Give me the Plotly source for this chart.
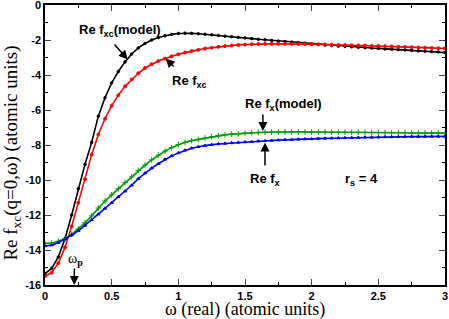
import plotly.graph_objects as go

omega = [round(0.05 * i, 2) for i in range(61)]

fxc_model = [-15.35, -15.05, -14.4, -13.35, -12.0, -10.5, -9.1, -7.85, -6.35, -5.3,
             -4.45, -3.8, -3.25, -2.8, -2.45, -2.2, -2.0, -1.86, -1.76, -1.68,
             -1.63, -1.61, -1.62, -1.64, -1.67, -1.7, -1.74, -1.78, -1.81, -1.85,
             -1.88, -1.92, -1.96, -1.99, -2.03, -2.06, -2.09, -2.12, -2.15, -2.18,
             -2.23, -2.26, -2.29, -2.32, -2.35, -2.37, -2.39, -2.42, -2.44, -2.46,
             -2.48, -2.51, -2.53, -2.55, -2.57, -2.59, -2.62, -2.64, -2.66, -2.68,
             -2.72]

fxc = [-15.5, -15.3, -14.75, -13.85, -12.65, -11.3, -9.95, -8.55, -7.4, -6.5,
       -5.75, -5.15, -4.65, -4.25, -3.9, -3.6, -3.38, -3.2, -3.06, -2.93,
       -2.82, -2.72, -2.63, -2.56, -2.49, -2.44, -2.39, -2.35, -2.31, -2.28,
       -2.26, -2.24, -2.23, -2.22, -2.22, -2.22, -2.22, -2.22, -2.23, -2.23,
       -2.24, -2.25, -2.26, -2.27, -2.28, -2.29, -2.3, -2.31, -2.32, -2.33,
       -2.34, -2.35, -2.37, -2.38, -2.4, -2.41, -2.43, -2.44, -2.45, -2.47,
       -2.48]

fx_model = [-13.62, -13.6, -13.5, -13.35, -13.1, -12.8, -12.45, -12.05, -11.6, -11.2,
            -10.85, -10.5, -10.15, -9.82, -9.45, -9.15, -8.85, -8.58, -8.35, -8.15,
            -7.98, -7.85, -7.75, -7.68, -7.6, -7.53, -7.47, -7.42, -7.38, -7.35,
            -7.32, -7.3, -7.28, -7.27, -7.26, -7.25, -7.25, -7.25, -7.25, -7.25,
            -7.26, -7.26, -7.26, -7.27, -7.27, -7.27, -7.28, -7.28, -7.28, -7.29,
            -7.29, -7.29, -7.3, -7.3, -7.3, -7.31, -7.31, -7.31, -7.32, -7.32,
            -7.32]

fx = [-13.77, -13.72, -13.58, -13.38, -13.15, -12.9, -12.6, -12.28, -11.95, -11.62,
      -11.29, -10.96, -10.64, -10.3, -9.92, -9.6, -9.32, -9.07, -8.82, -8.62,
      -8.45, -8.3, -8.18, -8.1, -8.03, -7.98, -7.94, -7.91, -7.88, -7.85,
      -7.83, -7.81, -7.78, -7.76, -7.74, -7.72, -7.7, -7.69, -7.67, -7.66,
      -7.65, -7.63, -7.62, -7.61, -7.6, -7.59, -7.58, -7.57, -7.56, -7.56,
      -7.55, -7.54, -7.54, -7.53, -7.53, -7.52, -7.52, -7.52, -7.51, -7.51,
      -7.51]

x_ticks = [0, 0.5, 1, 1.5, 2, 2.5, 3]
x_ticktext = ["0", "0.5", "1", "1.5", "2", "2.5", "3"]
y_ticks = [0, -2, -4, -6, -8, -10, -12, -14, -16]
y_ticktext = ["0", "-2", "-4", "-6", "-8", "-10", "-12", "-14", "-16"]

omega_p = 0.22

fig = go.Figure()
series = [
    (fxc_model, "black", "circle", 2.5),
    (fxc, "#ff0000", "circle", 3),
    (fx_model, "#009a00", "cross-thin", 4),
    (fx, "#0000ff", "triangle-up", 3),
]
for ys, col, sym, sz in series:
    fig.add_trace(go.Scatter(
        x=omega, y=ys, mode="lines+markers",
        line=dict(color=col, width=1.6),
        marker=dict(color=col, symbol=sym, size=sz, line=dict(color=col, width=1)),
        showlegend=False, hoverinfo="skip"))

bold = dict(family="Liberation Sans, Arial, sans-serif", size=13, color="black")

def label(text, x, y, size=13):
    fig.add_annotation(x=x, y=y, xref="x", yref="y", text=text, showarrow=False,
                       font=dict(bold, size=size), xanchor="center", yanchor="middle")

def arrow(x0, y0, x1, y1):
    fig.add_annotation(x=x1, y=y1, ax=x0, ay=y0, xref="x", yref="y", axref="x", ayref="y",
                       text="", showarrow=True, arrowhead=2, arrowsize=1.2, arrowwidth=1.5,
                       arrowcolor="black")

label("<b>Re f<sub>xc</sub>(model)</b>", 0.56, -1.45)
arrow(0.512, -2.17, 0.62, -3.12)
label("<b>Re f<sub>xc</sub></b>", 1.08, -4.35)
arrow(0.976, -3.6, 0.905, -3.05)
label("<b>Re f<sub>x</sub>(model)</b>", 1.787, -5.7)
arrow(1.634, -6.17, 1.634, -7.2)
label("<b>Re f<sub>x</sub></b>", 1.65, -9.95)
arrow(1.65, -9.26, 1.65, -7.85)
label("<b>r<sub>s</sub> = 4</b>", 2.37, -9.95)
fig.add_annotation(x=omega_p + 0.01, y=-14.55, xref="x", yref="y", text="ω<sub><b>p</b></sub>",
                   showarrow=False, font=dict(family="Liberation Serif", size=14, color="black"))
arrow(omega_p, -14.97, omega_p, -16.0)

serif = dict(family="Liberation Serif, Times New Roman, serif", size=18, color="black")
fig.add_annotation(x=0.5, y=-0.086, xref="paper", yref="paper", text="ω (real) (atomic units)",
                   showarrow=False, font=serif, xanchor="center", yanchor="middle")
fig.add_annotation(x=-0.082, y=0.47, xref="paper", yref="paper",
                   text="Re f<sub>xc</sub>(q=0,ω) (atomic units)", textangle=-90,
                   showarrow=False, font=dict(serif, size=19), xanchor="center", yanchor="middle")

tickfont = dict(family="Liberation Sans, Arial, sans-serif", size=11, color="black", weight="bold")
fig.update_xaxes(range=[0, 3], tickvals=x_ticks, ticktext=x_ticktext, ticks="inside", ticklen=6,
                 tickwidth=1, showline=True, linecolor="black", linewidth=1.5, mirror="allticks",
                 showgrid=False, zeroline=False, tickfont=tickfont, automargin=False,
                 ticklabeloverflow="allow",
                 minor=dict(tickmode="linear", tick0=0, dtick=0.25, ticks="inside", ticklen=3,
                            tickcolor="black", showgrid=False))
fig.update_yaxes(range=[-16, 0], tickvals=y_ticks, ticktext=y_ticktext, ticks="inside", ticklen=6,
                 tickwidth=1, showline=True, linecolor="black", linewidth=1.5, mirror="allticks",
                 showgrid=False, zeroline=False, tickfont=tickfont, automargin=False,
                 ticklabeloverflow="allow",
                 minor=dict(tickmode="linear", tick0=0, dtick=1, ticks="inside", ticklen=3,
                            tickcolor="black", showgrid=False))
fig.update_layout(width=449, height=319, margin=dict(l=45, r=4, t=5, b=34, autoexpand=False),
                  paper_bgcolor="white", plot_bgcolor="white")
fig.write_html("out.html", config={"displayModeBar": False},
               post_script="document.body.style.margin='0px';document.body.style.overflow='hidden';")
